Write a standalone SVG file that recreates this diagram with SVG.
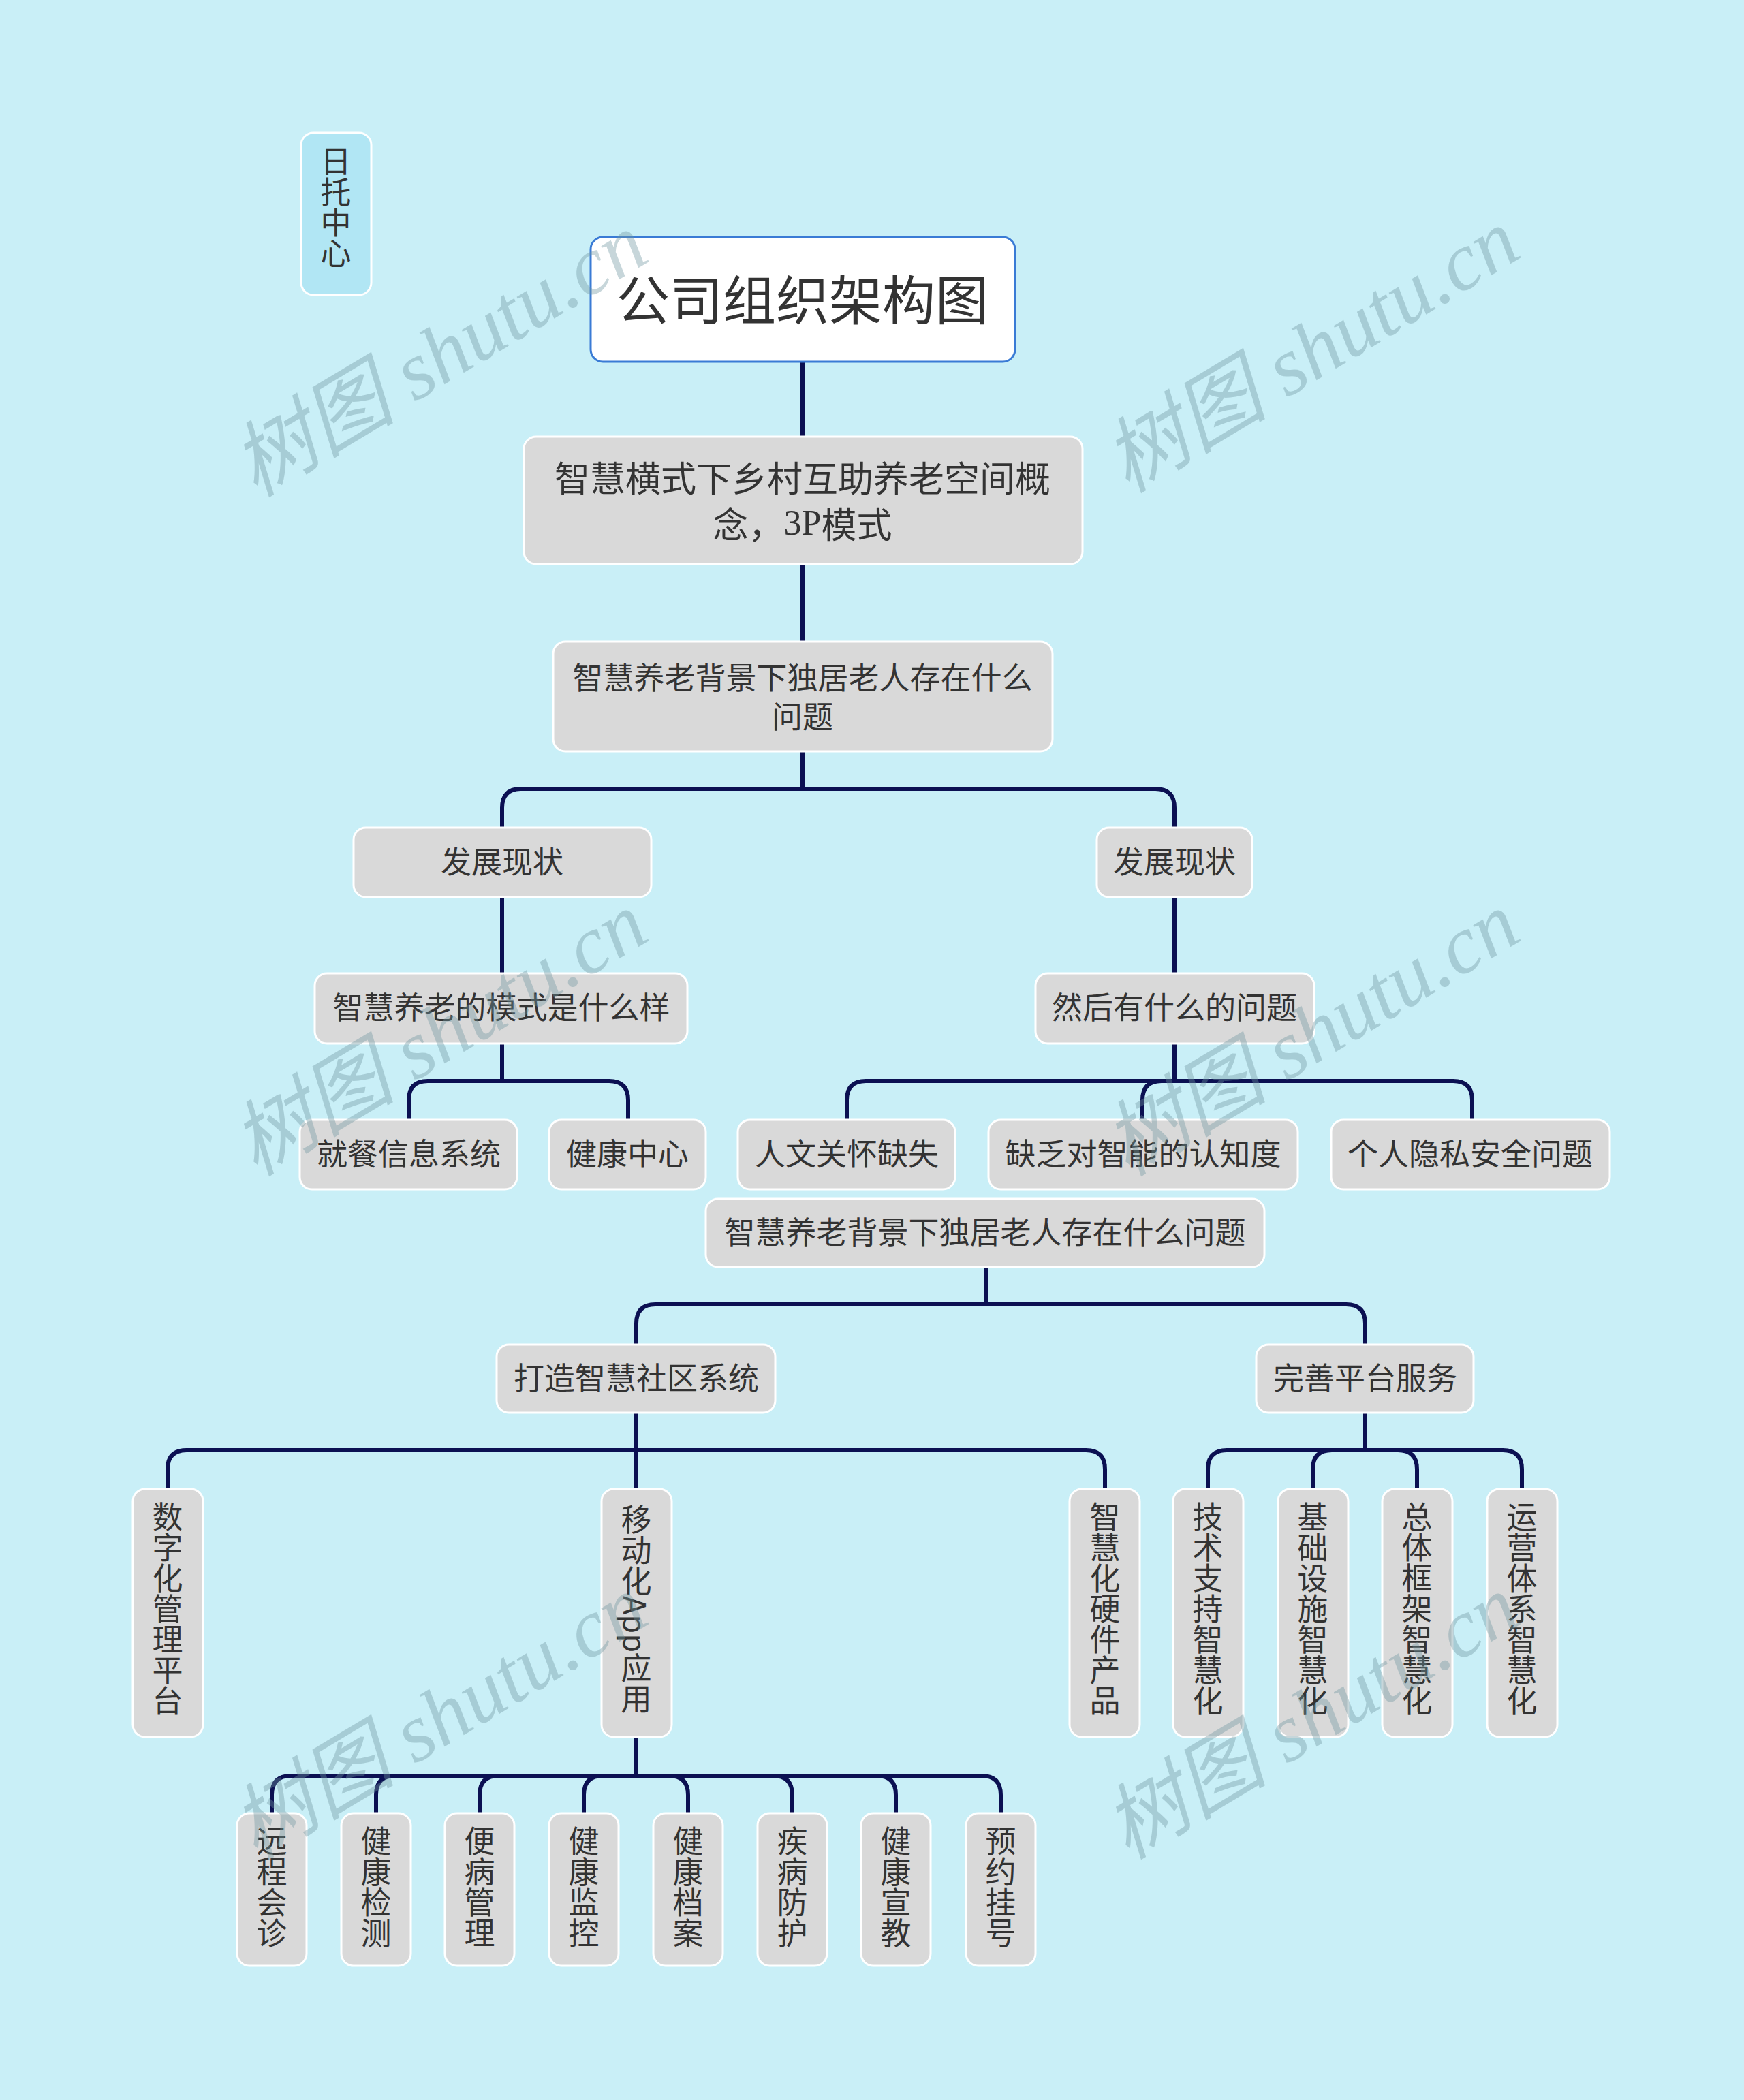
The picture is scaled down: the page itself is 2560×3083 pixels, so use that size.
<svg xmlns="http://www.w3.org/2000/svg" width="2560" height="3083" viewBox="0 0 2560 3083">
<style>
.box{fill:#d9d9d9;stroke:#ffffff;stroke-width:3}
.t{font-family:"Noto Sans CJK SC","Noto Sans",sans-serif;fill:#333333;font-size:45px;text-anchor:middle;dominant-baseline:central}
.v{writing-mode:vertical-rl}
.c{fill:none;stroke:#0b1052;stroke-width:6}
.wm{font-family:"Liberation Serif","Noto Sans CJK SC",serif;font-style:italic;font-size:121px;fill:#6f96a0;opacity:0.38;text-anchor:middle;dominant-baseline:central}
</style>
<rect width="2560" height="3083" fill="#c9eff7"/>
<g id="connectors" class="c">
<path d="M1178 531V641"/>
<path d="M1178 828V942"/>
<path d="M1178 1103V1158H765Q737 1158 737 1186V1215M1178 1158H1696Q1724 1158 1724 1186V1215"/>
<path d="M737 1317V1429"/>
<path d="M1724 1317V1429"/>
<path d="M737 1532V1587H628Q600 1587 600 1615V1644M737 1587H894Q922 1587 922 1615V1644"/>
<path d="M1724 1532V1587H1271Q1243 1587 1243 1615V1644M1724 1587H1705Q1677 1587 1677 1615V1644M1724 1587H2133Q2161 1587 2161 1615V1644"/>
<path d="M1447 1860V1915H962Q934 1915 934 1943V1974M1447 1915H1976Q2004 1915 2004 1943V1974"/>
<path d="M934 2074V2186M934 2129H274Q246 2129 246 2157V2186M934 2129H1594Q1622 2129 1622 2157V2186"/>
<path d="M2004 2074V2129H1801Q1773 2129 1773 2157V2186M2004 2129H1955Q1927 2129 1927 2157V2186M2004 2129H2052Q2080 2129 2080 2157V2186M2004 2129H2206Q2234 2129 2234 2157V2186"/>
<path d="M934 2550V2607H427Q399 2607 399 2635V2662M934 2607H580Q552 2607 552 2635V2662M934 2607H732Q704 2607 704 2635V2662M934 2607H885Q857 2607 857 2635V2662M934 2607H982Q1010 2607 1010 2635V2662M934 2607H1135Q1163 2607 1163 2635V2662M934 2607H1287Q1315 2607 1315 2635V2662M934 2607H1441Q1469 2607 1469 2635V2662"/>
</g>
<g id="n-daytuo"><rect x="442" y="195" width="103" height="238" rx="18" fill="#b1e6f4" stroke="#ffffff" stroke-width="3"/><text class="t v" x="493" y="304">日托中心</text></g>
<g id="n-root"><rect x="867" y="348" width="623" height="183" rx="18" fill="#ffffff" stroke="#3a7bd5" stroke-width="3"/><text class="t" x="1178" y="436" style="font-size:78px">公司组织架构图</text></g>
<g id="n-concept"><rect class="box" x="769" y="641" width="820" height="187" rx="18"/><text class="t" x="1178" y="699" style="font-size:52px">智慧横式下乡村互助养老空间概</text><text class="t" x="1178" y="767" style="font-size:52px">念，<tspan style="font-family:'Liberation Serif',serif">3P</tspan>模式</text></g>
<g id="n-problem1"><rect class="box" x="812" y="942" width="733" height="161" rx="18"/><text class="t" x="1178" y="992">智慧养老背景下独居老人存在什么</text><text class="t" x="1178" y="1049">问题</text></g>
<g id="n-status-l"><rect class="box" x="519" y="1215" width="437" height="102" rx="18"/><text class="t" x="737" y="1262">发展现状</text></g>
<g id="n-status-r"><rect class="box" x="1610" y="1215" width="228" height="102" rx="18"/><text class="t" x="1724" y="1262">发展现状</text></g>
<g id="n-mode"><rect class="box" x="462" y="1429" width="547" height="103" rx="18"/><text class="t" x="736" y="1476">智慧养老的模式是什么样</text></g>
<g id="n-then"><rect class="box" x="1520" y="1429" width="409" height="103" rx="18"/><text class="t" x="1724" y="1476">然后有什么的问题</text></g>
<g id="n-meal"><rect class="box" x="440" y="1644" width="319" height="102" rx="18"/><text class="t" x="600" y="1691">就餐信息系统</text></g>
<g id="n-health"><rect class="box" x="806" y="1644" width="230" height="102" rx="18"/><text class="t" x="921" y="1691">健康中心</text></g>
<g id="n-care"><rect class="box" x="1083" y="1644" width="319" height="102" rx="18"/><text class="t" x="1243" y="1691">人文关怀缺失</text></g>
<g id="n-aware"><rect class="box" x="1451" y="1644" width="454" height="102" rx="18"/><text class="t" x="1678" y="1691">缺乏对智能的认知度</text></g>
<g id="n-privacy"><rect class="box" x="1954" y="1644" width="409" height="102" rx="18"/><text class="t" x="2158" y="1691">个人隐私安全问题</text></g>
<g id="n-problem2"><rect class="box" x="1036" y="1760" width="820" height="100" rx="18"/><text class="t" x="1446" y="1806">智慧养老背景下独居老人存在什么问题</text></g>
<g id="n-community"><rect class="box" x="729" y="1974" width="409" height="100" rx="18"/><text class="t" x="934" y="2020">打造智慧社区系统</text></g>
<g id="n-platform"><rect class="box" x="1844" y="1974" width="319" height="100" rx="18"/><text class="t" x="2004" y="2020">完善平台服务</text></g>
<g id="n-digital"><rect class="box" x="195" y="2186" width="103" height="364" rx="18"/><text class="t v" x="246" y="2362">数字化管理平台</text></g>
<g id="n-app"><rect class="box" x="883" y="2186" width="103" height="364" rx="18"/><text class="t v" x="934" y="2362">移动化App应用</text></g>
<g id="n-hardware"><rect class="box" x="1570" y="2186" width="103" height="364" rx="18"/><text class="t v" x="1622" y="2362">智慧化硬件产品</text></g>
<g id="n-tech"><rect class="box" x="1722" y="2186" width="103" height="364" rx="18"/><text class="t v" x="1773" y="2362">技术支持智慧化</text></g>
<g id="n-infra"><rect class="box" x="1876" y="2186" width="103" height="364" rx="18"/><text class="t v" x="1927" y="2362">基础设施智慧化</text></g>
<g id="n-frame"><rect class="box" x="2029" y="2186" width="103" height="364" rx="18"/><text class="t v" x="2080" y="2362">总体框架智慧化</text></g>
<g id="n-ops"><rect class="box" x="2183" y="2186" width="103" height="364" rx="18"/><text class="t v" x="2234" y="2362">运营体系智慧化</text></g>
<g id="n-remote"><rect class="box" x="348" y="2662" width="102" height="224" rx="18"/><text class="t v" x="399" y="2770">远程会诊</text></g>
<g id="n-detect"><rect class="box" x="501" y="2662" width="102" height="224" rx="18"/><text class="t v" x="552" y="2770">健康检测</text></g>
<g id="n-chronic"><rect class="box" x="653" y="2662" width="102" height="224" rx="18"/><text class="t v" x="704" y="2770">便病管理</text></g>
<g id="n-monitor"><rect class="box" x="806" y="2662" width="102" height="224" rx="18"/><text class="t v" x="857" y="2770">健康监控</text></g>
<g id="n-record"><rect class="box" x="959" y="2662" width="102" height="224" rx="18"/><text class="t v" x="1010" y="2770">健康档案</text></g>
<g id="n-prevent"><rect class="box" x="1112" y="2662" width="102" height="224" rx="18"/><text class="t v" x="1163" y="2770">疾病防护</text></g>
<g id="n-edu"><rect class="box" x="1264" y="2662" width="102" height="224" rx="18"/><text class="t v" x="1315" y="2770">健康宣教</text></g>
<g id="n-appoint"><rect class="box" x="1418" y="2662" width="102" height="224" rx="18"/><text class="t v" x="1469" y="2770">预约挂号</text></g>
<g id="watermarks">
<text class="wm" transform="translate(645 521) rotate(-31)">树图 shutu.cn</text>
<text class="wm" transform="translate(1925 515) rotate(-31)">树图 shutu.cn</text>
<text class="wm" transform="translate(645 1518) rotate(-31)">树图 shutu.cn</text>
<text class="wm" transform="translate(1925 1518) rotate(-31)">树图 shutu.cn</text>
<text class="wm" transform="translate(645 2521) rotate(-31)">树图 shutu.cn</text>
<text class="wm" transform="translate(1925 2521) rotate(-31)">树图 shutu.cn</text>
</g>
</svg>
